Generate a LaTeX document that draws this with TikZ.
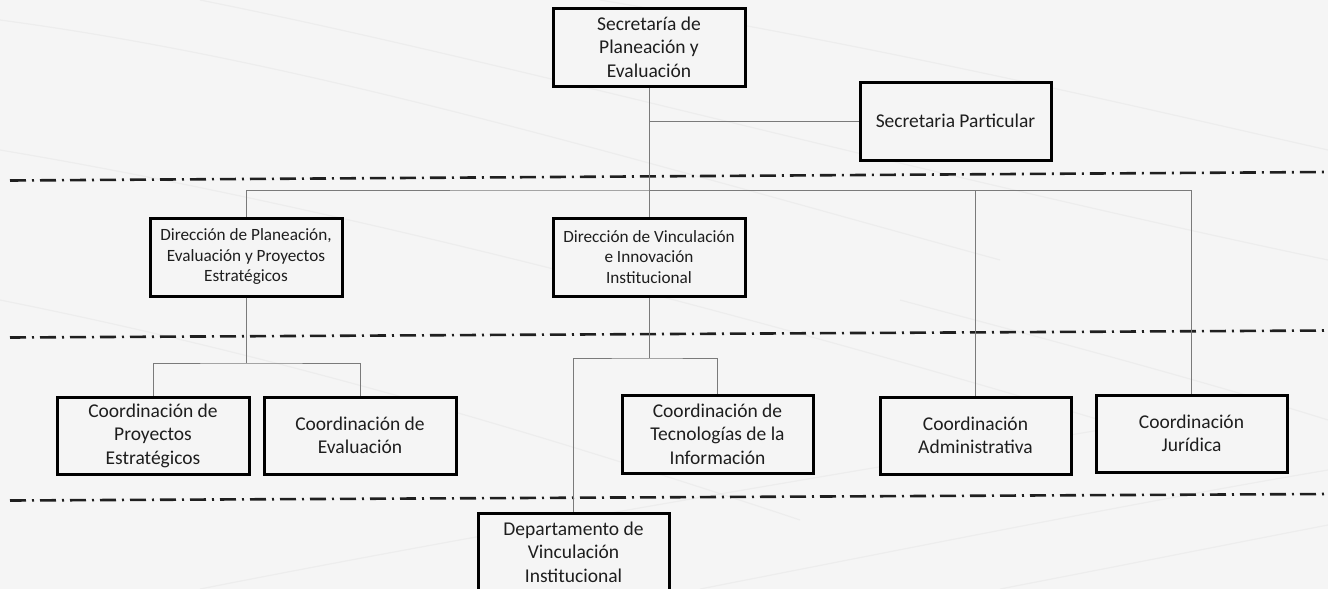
\documentclass[tikz,border=0pt]{standalone}
\usepackage{fontspec}
\setmainfont{Carlito}
\definecolor{bgc}{HTML}{F5F5F5}
\definecolor{txt}{HTML}{1E1E1E}
\definecolor{conn}{HTML}{7A7A7A}
\definecolor{stripe}{HTML}{E8E8E8}
\tikzset{
  box/.style={draw=black, line width=3pt, fill=bgc, inner sep=0pt, align=center,
    text=txt, minimum width=191pt, minimum height=78pt, font=\fontsize{19.5}{23.5}\selectfont},
  dbox/.style={box, font=\fontsize{17.2}{20.5}\selectfont},
  conline/.style={draw=conn, line width=1pt},
  sepline/.style={draw=black!88, line width=2.6pt, dash pattern=on 16pt off 6pt on 2pt off 6pt},
  bgline/.style={draw=stripe, line width=1.2pt, opacity=0.6}
}
\begin{document}
\begin{tikzpicture}[x=1pt,y=-1pt]
\fill[bgc] (0,0) rectangle (1328,589);
\useasboundingbox (0,0) rectangle (1328,589);
% faint background stripes
\begin{scope}
\clip (0,0) rectangle (1328,589);
\draw[bgline] (0,20) .. controls (300,60) and (600,150) .. (1000,260);
\draw[bgline] (200,0) .. controls (500,60) and (900,170) .. (1328,260);
\draw[bgline] (600,0) .. controls (900,50) and (1150,110) .. (1328,150);
\draw[bgline] (0,150) .. controls (300,200) and (700,300) .. (1100,420);
\draw[bgline] (0,300) .. controls (250,350) and (500,420) .. (800,520);
\draw[bgline] (900,300) .. controls (1050,340) and (1200,380) .. (1328,420);
\draw[bgline] (200,589) .. controls (500,530) and (800,480) .. (1100,430);
\draw[bgline] (700,589) .. controls (950,540) and (1150,500) .. (1328,470);
\draw[bgline] (1000,589) .. controls (1150,560) and (1250,540) .. (1328,525);
\end{scope}
% separator lines
\draw[sepline] (10,180.5) -- (1328,172);
\draw[sepline] (10,337.5) -- (1328,330.5);
\draw[sepline] (10,500.5) -- (1328,494);
% boxes
\node[box, minimum width=192pt] (sec) at (649,47) {Secretaría de\\Planeación y\\Evaluación};
\node[box] (par) at (955.5,121) {Secretaria Particular};
\node[dbox, minimum width=192pt] (dpl) at (246,257) {Dirección de Planeación,\\Evaluación y Proyectos\\Estratégicos};
\node[dbox, minimum width=192pt] (dvi) at (649,257) {Dirección de Vinculación\\e Innovación\\Institucional};
\node[box, minimum width=192pt, minimum height=77pt] (cpe) at (153,435.5) {Coordinación de\\Proyectos\\Estratégicos};
\node[box, minimum width=192pt, minimum height=77pt] (cev) at (360,435.5) {Coordinación de\\Evaluación};
\node[box] (cti) at (717.5,434) {Coordinación de\\Tecnologías de la\\Información};
\node[box, minimum height=77pt] (cad) at (975.5,435.5) {Coordinación\\Administrativa};
\node[box, minimum height=77pt] (cju) at (1191.5,433.5) {Coordinación\\Jurídica};
\node[box] (dep) at (573.5,552) {Departamento de\\Vinculación\\Institucional};
% connectors
\coordinate (b1) at (649,190);
\coordinate (b2) at (246,363);
\coordinate (b3) at (649,358);
\draw[conline] (sec.south) -- (dvi.north);
\draw[conline] (sec.south |- par.west) -- (par.west);
\draw[conline] (dpl.north) |- (b1) -| (cju.north);
\draw[conline] (b1) -| (cad.north);
\draw[conline] (dpl.south) -- (b2);
\draw[conline] (cpe.north) |- (b2) -| (cev.north);
\draw[conline] (dvi.south) -- (b3);
\draw[conline] (dep.north) |- (b3) -| (cti.north);
\end{tikzpicture}
\end{document}
